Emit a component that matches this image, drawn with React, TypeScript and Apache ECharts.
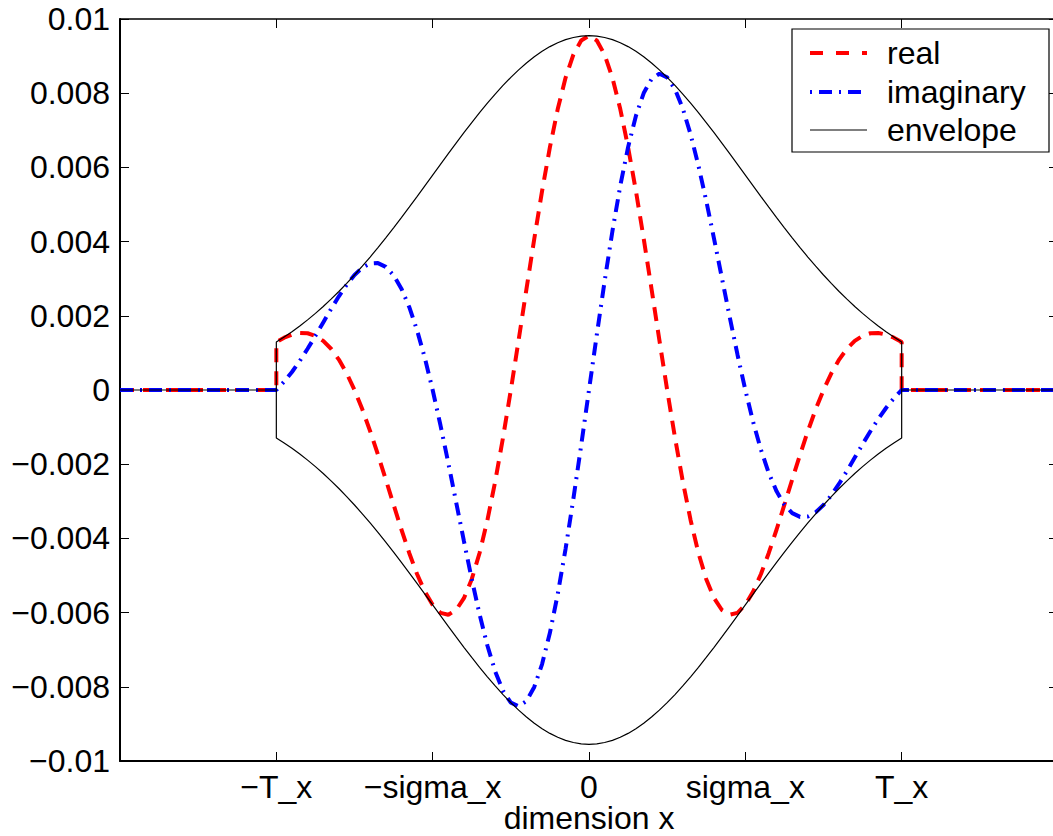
import React, { useEffect, useRef } from "react";
import * as echarts from "echarts";

// x positions (in units of sigma_x), from -T_x to T_x
const xSamples = [
  -2, -1.95, -1.9, -1.85, -1.8, -1.75, -1.7, -1.65, -1.6, -1.55, -1.5, -1.45, -1.4, -1.35, -1.3, -1.25, -1.2,
  -1.15, -1.1, -1.05, -1, -0.95, -0.9, -0.85, -0.8, -0.75, -0.7, -0.65, -0.6, -0.55, -0.5, -0.45, -0.4, -0.35,
  -0.3, -0.25, -0.2, -0.15, -0.1, -0.05, 0, 0.05, 0.1, 0.15, 0.2, 0.25, 0.3, 0.35, 0.4, 0.45, 0.5, 0.55, 0.6,
  0.65, 0.7, 0.75, 0.8, 0.85, 0.9, 0.95, 1, 1.05, 1.1, 1.15, 1.2, 1.25, 1.3, 1.35, 1.4, 1.45, 1.5, 1.55, 1.6,
  1.65, 1.7, 1.75, 1.8, 1.85, 1.9, 1.95, 2,
];

const envelopeVals = [
  0.001293, 0.001427, 0.001571, 0.001725, 0.00189, 0.002065, 0.002251, 0.002448, 0.002655, 0.002873, 0.0031,
  0.003338, 0.003584, 0.003839, 0.004102, 0.004372, 0.004648, 0.00493, 0.005215, 0.005503, 0.005792, 0.006082,
  0.00637, 0.006655, 0.006935, 0.007209, 0.007475, 0.007731, 0.007977, 0.008209, 0.008428, 0.00863, 0.008816,
  0.008983, 0.00913, 0.009256, 0.009361, 0.009443, 0.009502, 0.009538, 0.00955, 0.009538, 0.009502, 0.009443,
  0.009361, 0.009256, 0.00913, 0.008983, 0.008816, 0.00863, 0.008428, 0.008209, 0.007977, 0.007731, 0.007475,
  0.007209, 0.006935, 0.006655, 0.00637, 0.006082, 0.005792, 0.005503, 0.005215, 0.00493, 0.004648, 0.004372,
  0.004102, 0.003839, 0.003584, 0.003338, 0.0031, 0.002873, 0.002655, 0.002448, 0.002251, 0.002065, 0.00189,
  0.001725, 0.001571, 0.001427, 0.001293,
];

const realVals = [
  0.001293, 0.001409, 0.001494, 0.001537, 0.001529, 0.00146, 0.001323, 0.001111, 0.00082, 0.000449, 0,
  -0.000522, -0.001108, -0.001743, -0.002411, -0.003091, -0.00376, -0.004393, -0.00496, -0.005435, -0.005792,
  -0.006007, -0.006058, -0.00593, -0.005611, -0.005098, -0.004394, -0.00351, -0.002465, -0.001284, 0, 0.00135,
  0.002724, 0.004078, 0.005367, 0.006545, 0.007573, 0.008414, 0.009037, 0.009421, 0.00955, 0.009421, 0.009037,
  0.008414, 0.007573, 0.006545, 0.005367, 0.004078, 0.002724, 0.00135, 0, -0.001284, -0.002465, -0.00351,
  -0.004394, -0.005098, -0.005611, -0.00593, -0.006058, -0.006007, -0.005792, -0.005435, -0.00496, -0.004393,
  -0.00376, -0.003091, -0.002411, -0.001743, -0.001108, -0.000522, 0, 0.000449, 0.00082, 0.001111, 0.001323,
  0.00146, 0.001529, 0.001537, 0.001494, 0.001409, 0.001293,
];

const imagVals = [
  0, 0.000223, 0.000485, 0.000783, 0.001111, 0.00146, 0.001821, 0.002181, 0.002525, 0.002838, 0.0031, 0.003297,
  0.003409, 0.003421, 0.003319, 0.003091, 0.002732, 0.002238, 0.001612, 0.000861, 0, -0.000951, -0.001968,
  -0.003021, -0.004076, -0.005098, -0.006047, -0.006888, -0.007587, -0.008108, -0.008428, -0.008524, -0.008385,
  -0.008004, -0.007386, -0.006545, -0.005502, -0.004287, -0.002936, -0.001492, 0, 0.001492, 0.002936, 0.004287,
  0.005502, 0.006545, 0.007386, 0.008004, 0.008385, 0.008524, 0.008428, 0.008108, 0.007587, 0.006888, 0.006047,
  0.005098, 0.004076, 0.003021, 0.001968, 0.000951, 0, -0.000861, -0.001612, -0.002238, -0.002732, -0.003091,
  -0.003319, -0.003421, -0.003409, -0.003297, -0.0031, -0.002838, -0.002525, -0.002181, -0.001821, -0.00146,
  -0.001111, -0.000783, -0.000485, -0.000223, 0,
];

// outside the window the signal is zero
const leftTailX = [-3, -2];
const rightTailX = [2, 3];
const tailVals = [0, 0];

const xTickValues = [-2, -1, 0, 1, 2];
const xTickLabels = ["\u2212T_x", "\u2212sigma_x", "0", "sigma_x", "T_x"];

const seriesNames = ["real", "imaginary", "envelope"];

const FONT = '"Liberation Sans", Arial, Helvetica, sans-serif';
const FS = 32;

function zipPts(xs: number[], ys: number[]) {
  return xs.map((x, i) => [x, ys[i]]);
}

export default function App() {
  const ref = useRef<HTMLDivElement>(null);
  useEffect(() => {
    document.body.style.margin = "0";
    const chart = echarts.init(ref.current!, null, { renderer: "svg" });

    const left = zipPts(leftTailX, tailVals);
    const right = zipPts(rightTailX, tailVals);
    const realData = [...left, ...zipPts(xSamples, realVals), ...right];
    const imagData = [...left, ...zipPts(xSamples, imagVals), ...right];
    const envUpper = [...left, ...zipPts(xSamples, envelopeVals), ...right];
    const envLower = [[leftTailX[1], 0], ...zipPts(xSamples, envelopeVals.map((v) => -v)), [rightTailX[0], 0]];

    const xFmt = (v: number) => {
      const i = xTickValues.indexOf(v);
      return i >= 0 ? xTickLabels[i] : "";
    };
    const yFmt = (v: number) => {
      const s = String(parseFloat(Math.abs(v).toFixed(4)));
      return v < -1e-9 ? "\u2212" + s : s;
    };

    const labelStyle = { fontSize: FS, color: "#000", fontFamily: FONT };

    const option: any = {
      animation: false,
      backgroundColor: "#fff",
      grid: {
        left: 120,
        top: 19,
        width: 938,
        height: 742,
        containLabel: false,
        outerBoundsMode: "none",
      },
      xAxis: [
        {
          type: "value",
          min: -3,
          max: 3,
          interval: 1,
          position: "bottom",
          axisLine: { show: true, onZero: false, lineStyle: { color: "#000", width: 2 } },
          axisTick: { show: true, inside: true, length: 9, lineStyle: { color: "#000", width: 1 } },
          axisLabel: { ...labelStyle, formatter: xFmt, margin: 10, showMinLabel: true, showMaxLabel: true },
          splitLine: { show: false },
          name: "dimension x",
          nameLocation: "middle",
          nameGap: 41,
          nameMoveOverlap: false,
          nameTextStyle: { ...labelStyle },
        },
        {
          type: "value",
          min: -3,
          max: 3,
          interval: 1,
          position: "top",
          axisLine: { show: true, onZero: false, lineStyle: { color: "#000", width: 1.5 } },
          axisTick: { show: true, inside: true, length: 9, lineStyle: { color: "#000", width: 1 } },
          axisLabel: { show: false },
          splitLine: { show: false },
        },
      ],
      yAxis: [
        {
          type: "value",
          min: -0.01,
          max: 0.01,
          interval: 0.002,
          position: "left",
          axisLine: { show: true, onZero: false, lineStyle: { color: "#000", width: 2 } },
          axisTick: { show: true, inside: true, length: 9, lineStyle: { color: "#000", width: 1 } },
          axisLabel: { ...labelStyle, formatter: yFmt, margin: 10 },
          splitLine: { show: false },
        },
        {
          type: "value",
          min: -0.01,
          max: 0.01,
          interval: 0.002,
          position: "right",
          axisLine: { show: true, onZero: false, lineStyle: { color: "#000", width: 1.5 } },
          axisTick: { show: true, inside: true, length: 9, lineStyle: { color: "#000", width: 1 } },
          axisLabel: { show: false },
          splitLine: { show: false },
        },
      ],
      series: [
        {
          name: seriesNames[0],
          type: "line",
          data: realData,
          symbol: "none",
          lineStyle: { color: "#ff0000", width: 4, type: [14, 9], cap: "butt" },
          z: 2,
        },
        {
          name: seriesNames[1],
          type: "line",
          data: imagData,
          symbol: "none",
          lineStyle: { color: "#0000ff", width: 4, type: [13, 7, 2, 7], cap: "butt" },
          z: 3,
        },
        {
          name: seriesNames[2],
          type: "line",
          data: envUpper,
          symbol: "none",
          lineStyle: { color: "#000", width: 1.2 },
          z: 4,
        },
        {
          name: seriesNames[2] + "-lower",
          type: "line",
          data: envLower,
          symbol: "none",
          lineStyle: { color: "#000", width: 1.2 },
          z: 4,
        },
      ],
      graphic: [
        {
          type: "group",
          z: 100,
          children: [
            {
              type: "rect",
              shape: { x: 792, y: 29, width: 257, height: 123 },
              style: { fill: "#fff", stroke: "#000", lineWidth: 1.2 },
            },
            {
              type: "line",
              shape: { x1: 810, y1: 53, x2: 867, y2: 53 },
              style: { stroke: "#ff0000", lineWidth: 4, lineDash: [13, 13] },
            },
            {
              type: "line",
              shape: { x1: 810, y1: 92, x2: 867, y2: 92 },
              style: { stroke: "#0000ff", lineWidth: 4, lineDash: [2, 7, 13, 7] },
            },
            {
              type: "line",
              shape: { x1: 810, y1: 130, x2: 867, y2: 130 },
              style: { stroke: "#000", lineWidth: 1.2 },
            },
            {
              type: "text",
              x: 887,
              y: 53,
              style: { text: seriesNames[0], fontSize: FS, fontFamily: FONT, fill: "#000", verticalAlign: "middle" },
            },
            {
              type: "text",
              x: 887,
              y: 92,
              style: { text: seriesNames[1], fontSize: FS, fontFamily: FONT, fill: "#000", verticalAlign: "middle" },
            },
            {
              type: "text",
              x: 887,
              y: 130,
              style: { text: seriesNames[2], fontSize: FS, fontFamily: FONT, fill: "#000", verticalAlign: "middle" },
            },
          ],
        },
      ],
    };
    chart.setOption(option);
    return () => chart.dispose();
  }, []);
  return <div ref={ref} style={{ width: 1053, height: 836 }} />;
}
